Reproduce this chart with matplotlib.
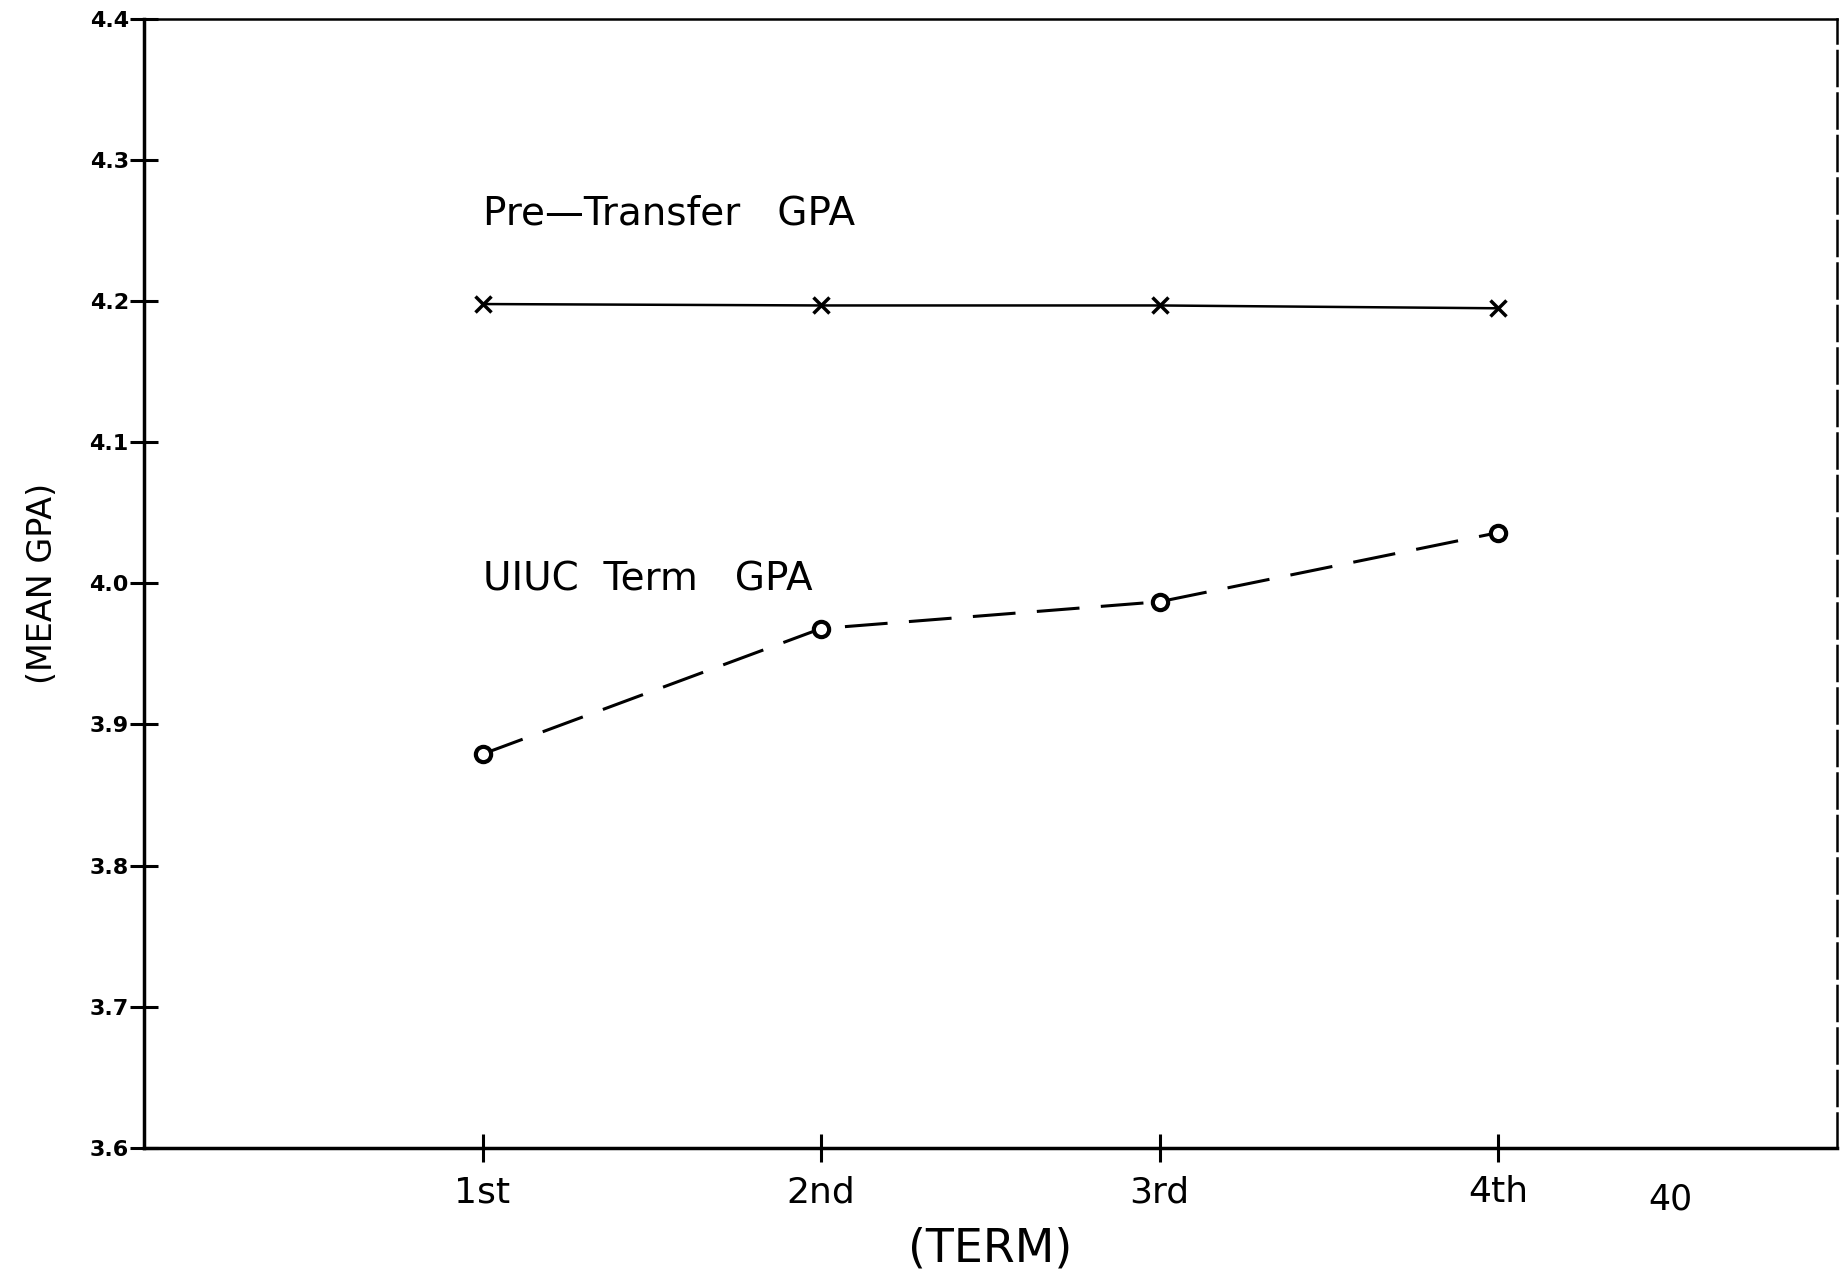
import matplotlib.pyplot as plt

terms = ["1st", "2nd", "3rd", "4th"]
term_pos = [1, 2, 3, 4]
pre_transfer = [4.198, 4.197, 4.197, 4.195]
uiuc_term = [3.879, 3.968, 3.987, 4.036]
y_ticks = [3.6, 3.7, 3.8, 3.9, 4.0, 4.1, 4.2, 4.3, 4.4]

fig = plt.figure(figsize=(18.46, 12.71), dpi=100)
ax = fig.add_axes([0.078, 0.097, 0.917, 0.888])

# pre-transfer: thin solid line with x markers
ax.plot(term_pos, pre_transfer, color="black", lw=1.8, marker="x",
        markersize=11, markeredgewidth=2.5)
# UIUC term: dashed line with open circles
ax.plot(term_pos, uiuc_term, color="black", lw=2.2, dashes=(14, 7),
        marker="o", markersize=11, markerfacecolor="white",
        markeredgewidth=3.0)

ax.text(1.0, 4.262, "Pre\u2014Transfer   GPA", fontsize=28, va="center", ha="left")
ax.text(1.0, 4.003, "UIUC  Term   GPA", fontsize=28, va="center", ha="left")

ax.set_xlim(0, 5)
ax.set_ylim(3.6, 4.4)
ax.set_xticks(term_pos)
ax.set_xticklabels(terms, fontsize=26)
ax.set_yticks(y_ticks)
ax.set_yticklabels([f"{v:.1f}" for v in y_ticks], fontsize=16, fontweight="bold")
ax.tick_params(axis="both", direction="inout", length=20, width=2.2, color="black")
ax.tick_params(axis="x", pad=10)
ax.tick_params(axis="y", pad=1)

for s in ["left", "bottom"]:
    ax.spines[s].set_linewidth(2.5)
ax.spines["top"].set_linewidth(1.8)
ax.spines["right"].set_linewidth(1.8)
ax.spines["right"].set_linestyle((0, (14, 3)))

ax.set_ylabel("(MEAN GPA)", fontsize=24, labelpad=22)
ax.set_xlabel("(TERM)", fontsize=33, labelpad=12)

# page number from the scanned page
fig.text(0.905, 0.056, "40", fontsize=25, ha="center", va="center")

fig.savefig("out.png", dpi=100)
